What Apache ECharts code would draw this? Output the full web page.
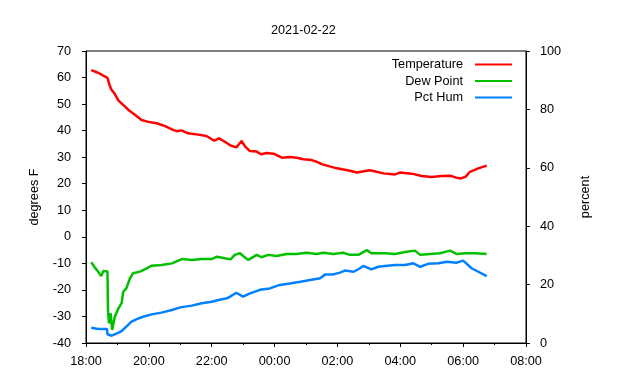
<!DOCTYPE html>
<html>
<head>
<meta charset="utf-8">
<script src="https://cdn.jsdelivr.net/npm/echarts@6/dist/echarts.min.js"></script>
<style>html,body{margin:0;padding:0;background:#fff}#c{width:640px;height:380px}</style>
</head>
<body>
<div id="c"></div>
<script>
const title = '2021-02-22';
const xTickLabels = ['18:00','20:00','22:00','00:00','02:00','04:00','06:00','08:00'];

const tempTimes = ['18:10','18:23','18:33','18:41','18:44','18:48','18:54','19:02','19:11','19:21','19:34','19:46','19:59','20:15','20:31','20:44','20:53','21:02','21:15','21:34','21:50','22:05','22:14','22:25','22:36','22:47','22:57','23:04','23:13','23:26','23:34','23:45','23:58','00:14','00:29','00:42','00:55','01:11','01:20','01:30','01:33','01:59','02:24','02:37','03:02','03:28','03:50','03:59','04:22','04:41','05:00','05:19','05:35','05:47','05:56','06:05','06:13','06:29','06:45'];
const tempValues = [62.8,61.8,60.7,59.9,57.8,55.6,54.1,51.3,49.7,47.8,45.9,44.0,43.3,42.8,41.7,40.5,39.8,40.1,39.0,38.5,38.0,36.2,37.1,35.8,34.4,33.7,36.1,34.0,32.3,32.1,31.1,31.6,31.3,29.8,30.1,29.8,29.2,28.9,28.3,27.4,27.1,25.8,24.9,24.2,25.1,23.9,23.5,24.2,23.8,22.9,22.5,22.9,23.0,22.3,22.0,22.7,24.5,25.8,26.8];

const dewTimes = ['18:10','18:17','18:23','18:29','18:33','18:41','18:42','18:44','18:47','18:50','18:55','19:02','19:08','19:11','19:17','19:24','19:30','19:43','19:56','20:05','20:24','20:44','21:03','21:22','21:41','22:00','22:10','22:25','22:36','22:44','22:54','23:00','23:10','23:26','23:35','23:48','00:04','00:23','00:42','01:01','01:20','01:33','01:52','02:11','02:24','02:40','02:56','03:05','03:31','03:50','04:12','04:28','04:38','04:57','05:16','05:35','05:48','06:04','06:23','06:45'];
const dewValues = [-9.6,-11.6,-13.1,-14.8,-12.9,-13.1,-28.2,-32.6,-28.8,-35.1,-30.1,-26.9,-25.0,-20.7,-19.4,-15.6,-13.7,-13.1,-11.9,-10.9,-10.6,-10.0,-8.4,-8.7,-8.4,-8.4,-7.5,-8.1,-8.5,-6.8,-6.2,-7.2,-8.7,-6.8,-7.7,-6.8,-7.2,-6.5,-6.5,-6.0,-6.5,-6.0,-6.5,-6.0,-6.8,-6.8,-5.0,-6.2,-6.2,-6.5,-5.6,-5.2,-6.8,-6.5,-6.2,-5.2,-6.5,-6.2,-6.2,-6.5];

const humTimes = ['18:10','18:23','18:40','18:41','18:49','18:59','19:08','19:17','19:27','19:37','19:49','20:05','20:24','20:44','21:00','21:22','21:41','22:00','22:13','22:29','22:35','22:47','23:00','23:13','23:32','23:51','00:10','00:29','00:49','01:08','01:27','01:37','01:52','02:05','02:14','02:31','02:43','02:49','03:05','03:18','03:31','03:50','04:09','04:25','04:38','04:53','05:13','05:29','05:47','06:00','06:07','06:16','06:29','06:45'];
const humValues = [5.2,4.8,4.8,3.0,2.5,3.3,4.1,5.6,7.3,8.2,9.0,9.8,10.4,11.3,12.2,12.8,13.6,14.1,14.7,15.3,15.9,17.2,15.9,17.0,18.2,18.7,19.9,20.4,21.0,21.6,22.2,23.5,23.5,24.1,24.8,24.4,25.6,26.4,25.2,26.1,26.4,26.7,26.7,27.3,26.1,27.1,27.3,27.8,27.5,28.2,27.1,25.6,24.4,22.9];

// hours elapsed since 18:00
function hrs(t) {
  const [h, m] = t.split(':').map(Number);
  let v = h + m / 60 - 18;
  if (v < 0) v += 24;
  return v;
}
function pairs(times, vals) { return times.map((t, i) => [hrs(t), vals[i]]); }

const FONT = 'Liberation Sans, Arial, sans-serif';
const FS = 12.7;
const chart = echarts.init(document.getElementById('c'), null, {renderer: 'canvas'});
chart.setOption({
  animation: false,
  backgroundColor: '#fff',
  textStyle: {fontFamily: FONT, fontSize: FS, color: '#000'},
  title: {text: title, left: 266, top: 19,
    textStyle: {fontFamily: FONT, fontSize: FS, fontWeight: 'normal', color: '#000'}},
  legend: {
    orient: 'vertical', align: 'right', right: 123, top: 53,
    icon: 'rect', itemWidth: 37, itemHeight: 2, itemGap: 3.5,
    textStyle: {fontFamily: FONT, fontSize: FS, color: '#000', padding: [0, 7, 0, 0]},
    data: ['Temperature', 'Dew Point', 'Pct Hum']
  },
  grid: {left: 86, right: 114, top: 51, bottom: 37, show: true, borderColor: '#000', borderWidth: 1, containLabel: false},
  xAxis: {
    type: 'value', min: 0, max: 14, interval: 2,
    axisLine: {show: true, onZero: false, lineStyle: {color: '#000', width: 1}},
    axisTick: {show: true, length: 4, lineStyle: {color: '#000'}},
    minorTick: {show: true, splitNumber: 2, length: 2, lineStyle: {color: '#000'}},
    splitLine: {show: false},
    axisLabel: {margin: 12, color: '#000', fontFamily: FONT, fontSize: FS,
      formatter: v => xTickLabels[Math.round(v / 2)]}
  },
  yAxis: [
    {type: 'value', min: -40, max: 70, interval: 10, position: 'left',
      name: 'degrees F', nameLocation: 'middle', nameGap: 45, nameRotate: 90,
      nameTextStyle: {fontFamily: FONT, fontSize: FS, color: '#000'},
      axisLine: {show: true, lineStyle: {color: '#000'}},
      axisTick: {show: true, length: 4, lineStyle: {color: '#000'}},
      splitLine: {show: false},
      axisLabel: {margin: 15, color: '#000', fontFamily: FONT, fontSize: FS}},
    {type: 'value', min: 0, max: 100, interval: 20, position: 'right',
      name: 'percent', nameLocation: 'middle', nameGap: 53, nameRotate: 90,
      nameTextStyle: {fontFamily: FONT, fontSize: FS, color: '#000'},
      axisLine: {show: true, lineStyle: {color: '#000'}},
      axisTick: {show: true, length: 4, lineStyle: {color: '#000'}},
      splitLine: {show: false},
      axisLabel: {margin: 14, color: '#000', fontFamily: FONT, fontSize: FS}}
  ],
  series: [
    {name: 'Temperature', type: 'line', yAxisIndex: 0, symbol: 'none', color: '#ff0000',
      lineStyle: {width: 2.5, color: '#ff0000'}, data: pairs(tempTimes, tempValues)},
    {name: 'Dew Point', type: 'line', yAxisIndex: 0, symbol: 'none', color: '#00c000',
      lineStyle: {width: 2.5, color: '#00c000'}, data: pairs(dewTimes, dewValues)},
    {name: 'Pct Hum', type: 'line', yAxisIndex: 1, symbol: 'none', color: '#0080ff',
      lineStyle: {width: 2.5, color: '#0080ff'}, data: pairs(humTimes, humValues)}
  ]
});
</script>
</body>
</html>
